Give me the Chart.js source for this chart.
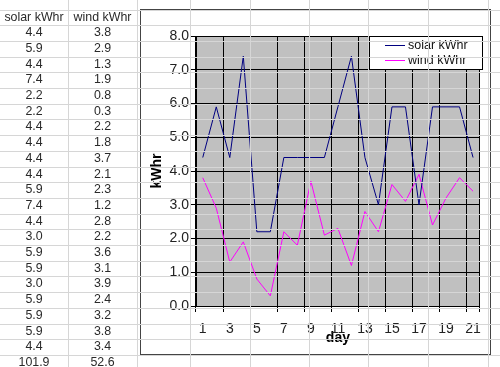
<!DOCTYPE html>
<html>
<head>
<meta charset="utf-8">
<script src="https://cdn.jsdelivr.net/npm/chart.js@4"></script>
<style>
  body { margin: 0; background: #fff; width: 500px; height: 367px; overflow: hidden; position: relative; font-family: "Liberation Sans", Arial, sans-serif; }
  .hl { position: absolute; left: 0; width: 500px; height: 1px; background: #d6d6d6; }
  .vl { position: absolute; top: 0; width: 1px; height: 367px; background: #d6d6d6; }
  .cell { position: absolute; height: 15.7px; line-height: 15.7px; text-align: center; font-size: 12.4px; color: #2a2a2a; white-space: nowrap; }
  #chartBox { position: absolute; left: 140px; top: 9px; width: 349px; height: 344px; border: 1px solid #444; background: #fff; }
</style>
</head>
<body>
<div id="chartBox"><canvas id="chart"></canvas></div>
<script>
const days = ["1","2","3","4","5","6","7","8","9","10","11","12","13","14","15","16","17","18","19","20","21"];
const solarKWhr = [4.4, 5.9, 4.4, 7.4, 2.2, 2.2, 4.4, 4.4, 4.4, 4.4, 5.9, 7.4, 4.4, 3.0, 5.9, 5.9, 3.0, 5.9, 5.9, 5.9, 4.4];
const windKWhr = [3.8, 2.9, 1.3, 1.9, 0.8, 0.3, 2.2, 1.8, 3.7, 2.1, 2.3, 1.2, 2.8, 2.2, 3.6, 3.1, 3.9, 2.4, 3.2, 3.8, 3.4];
const headers = ["solar kWhr", "wind kWhr"];
const totals = ["101.9", "52.6"];

// spreadsheet behind the chart
const rowTop = 9.5, rowH = 15.7;
const colLines = [68, 137, 190, 250, 309, 368, 428, 488];
const colA = [0, 68], colB = [68, 137];

for (let i = -1; i < 24; i++) {
  const d = document.createElement("div");
  d.className = "hl";
  d.style.top = Math.round(rowTop + i * rowH) + "px";
  document.body.appendChild(d);
}
colLines.forEach(x => {
  const d = document.createElement("div");
  d.className = "vl";
  d.style.left = x + "px";
  document.body.appendChild(d);
});

function cell(text, col, row) {
  const d = document.createElement("div");
  d.className = "cell";
  d.textContent = text;
  d.style.left = col[0] + "px";
  d.style.width = (col[1] - col[0]) + "px";
  d.style.top = (rowTop + row * rowH) + "px";
  document.body.appendChild(d);
}

cell(headers[0], colA, 0);
cell(headers[1], colB, 0);
for (let i = 0; i < days.length; i++) {
  cell(solarKWhr[i].toFixed(1), colA, i + 1);
  cell(windKWhr[i].toFixed(1), colB, i + 1);
}
cell(totals[0], colA, 22);
cell(totals[1], colB, 22);

const plotBg = {
  id: "plotBg",
  beforeDraw(c) {
    const { ctx, chartArea: a } = c;
    ctx.save();
    ctx.fillStyle = "#fff";
    ctx.fillRect(0, 0, c.width, c.height);
    ctx.fillStyle = "#c0c0c0";
    ctx.fillRect(a.left, a.top, a.right - a.left, a.bottom - a.top);
    ctx.restore();
  }
};

// excel style legend box sitting inside the plot, top right
const boxLegend = {
  id: "boxLegend",
  afterDraw(c) {
    const ctx = c.ctx;
    const x = 228.5, y = 26.5, w = 113, h = 33;
    ctx.save();
    ctx.fillStyle = "#fff";
    ctx.fillRect(x, y, w, h);
    ctx.strokeStyle = "#000";
    ctx.lineWidth = 1;
    ctx.strokeRect(x, y, w, h);
    ctx.font = "12.5px 'Liberation Sans', Arial, sans-serif";
    ctx.textAlign = "left";
    ctx.textBaseline = "middle";
    c.data.datasets.forEach((ds, i) => {
      const ly = 35.5 + i * 15;
      ctx.strokeStyle = ds.borderColor;
      ctx.beginPath();
      ctx.moveTo(244, ly);
      ctx.lineTo(264, ly);
      ctx.stroke();
      ctx.fillStyle = "#111";
      ctx.fillText(ds.label, 267, ly + 0.5);
    });
    ctx.restore();
  }
};

const tickFont = { family: "'Liberation Sans', Arial, sans-serif", size: 14 };
const titleFont = { family: "'Liberation Sans', Arial, sans-serif", size: 14, weight: "bold" };

new Chart(document.getElementById("chart"), {
  type: "line",
  data: {
    labels: days,
    datasets: [
      { label: headers[0], data: solarKWhr, borderColor: "#000080", borderWidth: 1, pointRadius: 0, tension: 0 },
      { label: headers[1], data: windKWhr, borderColor: "#ff00ff", borderWidth: 1, pointRadius: 0, tension: 0 }
    ]
  },
  options: {
    responsive: true,
    maintainAspectRatio: false,
    animation: false,
    layout: { padding: { left: 0, top: 26, right: 7, bottom: 0 } },
    plugins: { legend: { display: false }, tooltip: { enabled: false } },
    scales: {
      x: {
        offset: true,
        afterFit: s => { s.height = 48; },
        grid: {
          offset: true,
          color: ctx => ctx.index % 2 ? "transparent" : "#000",
          tickColor: ctx => ctx.index % 2 ? "transparent" : "#000",
          tickLength: 6
        },
        border: { color: "#000" },
        ticks: {
          autoSkip: false,
          maxRotation: 0,
          padding: 9,
          color: "#222",
          font: tickFont,
          callback: (v, i) => i % 2 ? "" : days[i]
        },
        title: { display: true, text: "day", color: "#000", font: titleFont, padding: { top: 0, bottom: 7 } }
      },
      y: {
        min: 0,
        max: 8,
        afterFit: s => { s.width = 55; },
        grid: { color: "#000", tickColor: "#000", tickLength: 5 },
        border: { color: "#000" },
        ticks: {
          stepSize: 1,
          padding: 2,
          color: "#222",
          font: tickFont,
          callback: v => v.toFixed(1)
        },
        title: { display: true, text: "kWhr", color: "#000", font: titleFont, padding: { top: 7.6, bottom: 0 } }
      }
    }
  },
  plugins: [plotBg, boxLegend]
});
</script>
</body>
</html>
